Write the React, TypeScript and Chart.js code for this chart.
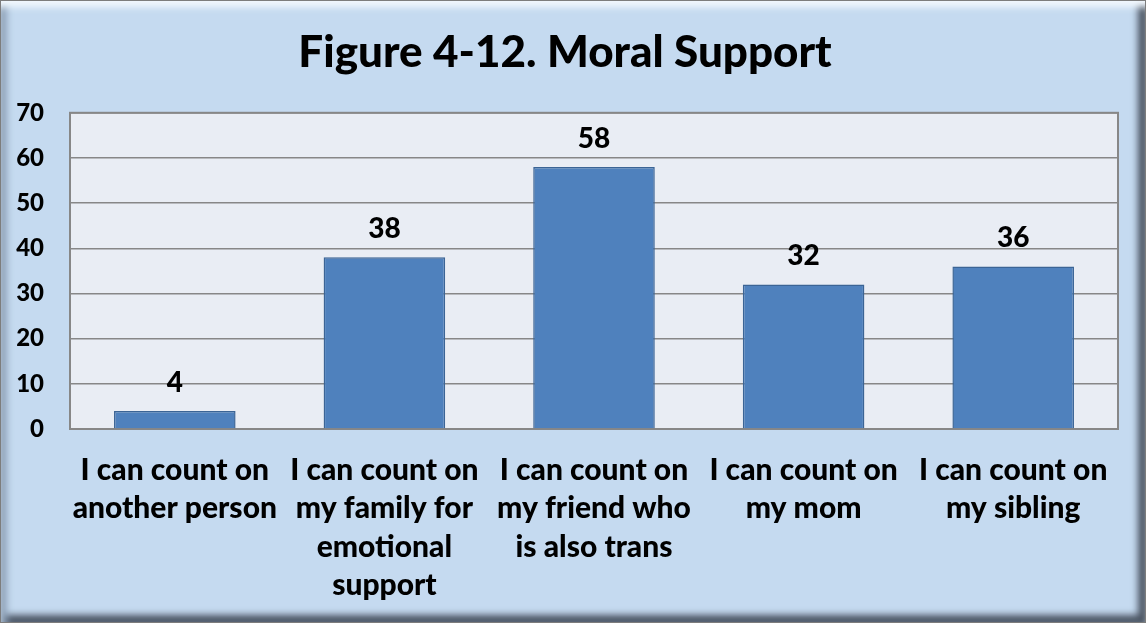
import React, { useEffect, useRef } from "react";
import { Chart, registerables } from "chart.js";

Chart.register(...registerables);

const categories: string[][] = [
  ["I can count on", "another person"],
  ["I can count on", "my family for", "emotional", "support"],
  ["I can count on", "my friend who", "is also trans"],
  ["I can count on", "my mom"],
  ["I can count on", "my sibling"],
];
const values: number[] = [4, 38, 58, 32, 36];
const yMin = 0;
const yMax = 70;
const yStep = 10;
const titleText = "Figure 4-12. Moral Support";

const FONT = "Lato, 'Liberation Sans', sans-serif";

const plotBg = {
  id: "plotBg",
  beforeDraw(chart: any) {
    const { ctx, chartArea: a } = chart;
    ctx.save();
    ctx.fillStyle = "#e9edf4";
    ctx.fillRect(a.left, a.top, a.right - a.left, a.bottom - a.top);
    ctx.restore();
  },
  beforeDatasetsDraw(chart: any) {
    const { ctx, chartArea: a } = chart;
    ctx.save();
    ctx.strokeStyle = "#878787";
    ctx.lineWidth = 2;
    ctx.strokeRect(a.left, a.top, a.right - a.left, a.bottom - a.top);
    ctx.restore();
  },
};

const valueLabels = {
  id: "valueLabels",
  afterDatasetsDraw(chart: any) {
    const { ctx } = chart;
    const meta = chart.getDatasetMeta(0);
    ctx.save();
    ctx.font = `900 28px ${FONT}`;
    ctx.fillStyle = "#000";
    ctx.textAlign = "center";
    ctx.textBaseline = "alphabetic";
    meta.data.forEach((el: any, i: number) => {
      ctx.fillText(String(values[i]), el.x, el.y - 19);
    });
    ctx.restore();
  },
};

export default function App() {
  const ref = useRef<HTMLCanvasElement>(null);
  useEffect(() => {
    document.body.style.margin = "0";
    if (!ref.current) return;
    const chart = new Chart(ref.current, {
      type: "bar",
      data: {
        labels: categories,
        datasets: [
          {
            data: values,
            backgroundColor: "#4f81bd",
            borderColor: "#3b6495",
            borderWidth: 1.5,
            categoryPercentage: 1,
            barPercentage: 0.58,
          },
        ],
      },
      options: {
        animation: false,
        responsive: false,
        maintainAspectRatio: false,
        layout: { padding: { left: 12, right: 28, top: 0, bottom: 0 } },
        plugins: {
          legend: { display: false },
          tooltip: { enabled: false },
          title: {
            display: true,
            text: titleText,
            color: "#000",
            font: { family: FONT, size: 44, weight: "900", lineHeight: 1.2 },
            padding: { top: 26, bottom: 34 },
          },
        },
        scales: {
          x: {
            grid: { display: false, drawTicks: false },
            border: { display: false },
            ticks: {
              color: "#000",
              padding: 22,
              maxRotation: 0,
              autoSkip: false,
              font: { family: FONT, size: 30, weight: "900", lineHeight: 1.28 },
            },
            afterFit(scale: any) {
              scale.height = 194;
            },
          },
          y: {
            min: yMin,
            max: yMax,
            grid: { color: "#878787", lineWidth: 1.5, drawTicks: false },
            border: { display: false },
            ticks: {
              stepSize: yStep,
              color: "#000",
              padding: 26,
              font: { family: FONT, size: 24, weight: "900" },
            },
            afterFit(scale: any) {
              scale.width = 58;
            },
          },
        },
      },
      plugins: [plotBg, valueLabels],
    });
    return () => chart.destroy();
  }, []);

  return (
    <div
      style={{
        position: "relative",
        width: 1146,
        height: 623,
        boxSizing: "border-box",
        background: "#c5daf0",
        border: "1px solid #7d7d7d",
        boxShadow:
          "inset 0 9px 7px -3px #f4faff, inset 9px 0 7px -3px #8fa3ba, inset -10px 0 7px -3px #4a5462, inset 0 -10px 7px -3px #4a5462",
      }}
    >
      <canvas
        ref={ref}
        width={1146}
        height={623}
        style={{ position: "absolute", left: -1, top: -1, width: 1146, height: 623 }}
      />
    </div>
  );
}
